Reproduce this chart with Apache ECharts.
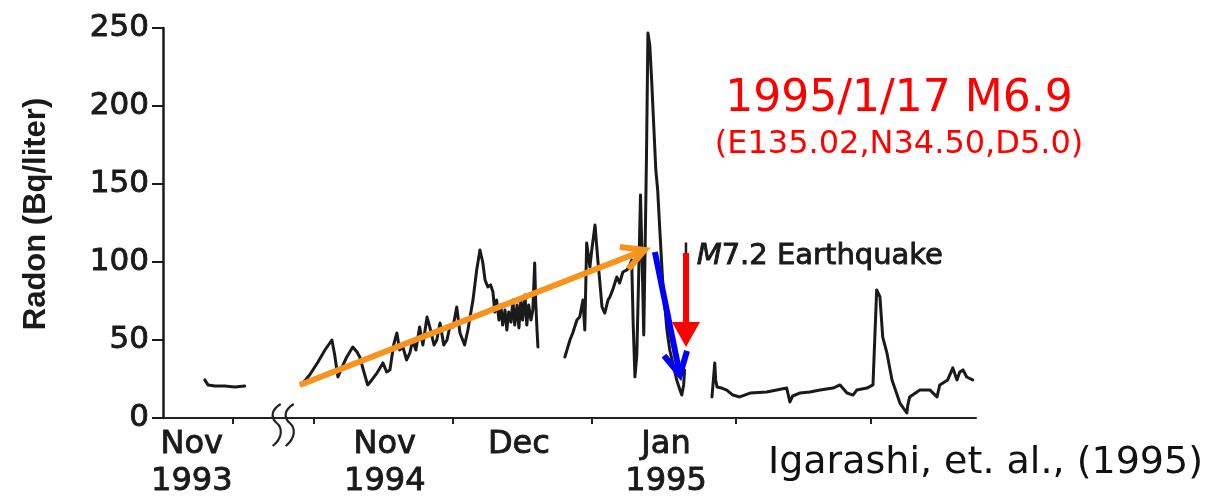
<!DOCTYPE html>
<html>
<head>
<meta charset="utf-8">
<script src="https://cdn.jsdelivr.net/npm/echarts@6/dist/echarts.min.js"></script>
<style>
  html, body { margin: 0; padding: 0; background: #fff; }
  #chart { width: 1213px; height: 498px; }
</style>
</head>
<body>
<div id="chart"></div>
<script>
// x = days counted from 1 Nov 1994; the short Nov 1993 record sits left of the axis break
const seg1993 = [[-23.5,24.4],[-22.8,21.2],[-21.3,20.5],[-19.2,20.5],[-17.0,19.9],[-14.9,20.5]];

const segAutumn = [[-2.7,21.2],[-0.9,27.6],[0.9,35.9],[2.4,43.6],[3.9,50.0],[4.5,40.4],[5.2,26.3],[6.3,34.0],
  [7.1,39.1],[8.4,45.5],[9.3,42.3],[9.9,39.1],[10.8,29.5],[11.6,21.2],[12.5,24.4],[13.6,28.8],[14.9,35.3],
  [15.7,29.5],[16.4,30.8],[17.2,46.8],[17.9,54.5],[18.5,43.6],[19.2,45.5],[20.0,37.2],[20.7,41.7],[21.3,50.0],
  [22.0,43.6],[22.8,58.3],[23.5,46.8],[24.4,64.7],[25.0,58.3],[25.9,46.8],[26.5,50.0],[27.2,60.9],[28.0,46.8],
  [28.7,50.0],[29.3,58.3],[30.0,58.3],[30.8,71.2],[31.5,54.5],[32.5,46.8],[33.2,56.4],[34.3,75.6],[35.1,94.9],
  [35.8,107.7],[36.4,100.0],[36.9,88.5],[37.5,84.0],[38.1,85.3],[38.6,80.8],[39.0,67.9],[39.4,75.6],[39.9,62.8],
  [40.3,72.4],[40.7,59.6],[41.2,69.2],[41.6,56.4],[42.0,67.9],[42.5,61.5],[42.9,75.6],[43.3,59.6],[43.8,72.4],
  [44.2,57.7],[44.6,75.6],[45.0,62.8],[45.5,78.8],[45.9,59.6],[46.3,72.4],[46.8,62.8],[47.2,69.2],[47.6,99.4],
  [47.8,75.6],[48.1,56.4],[48.3,45.5]];

const segPeak = [[54.1,39.1],[55.2,50.0],[55.8,54.5],[56.7,62.8],[57.3,64.7],[58.0,75.6],[58.4,56.4],[58.8,112.2],
  [59.5,96.8],[59.9,107.7],[60.6,123.7],[61.2,101.3],[61.6,88.5],[62.1,71.2],[62.7,67.3],[63.4,75.6],[63.8,77.6],
  [64.4,82.1],[65.3,90.4],[65.9,86.5],[66.6,93.6],[67.5,94.9],[68.1,98.1],[68.5,101.3],[68.8,62.8],[69.2,26.3],
  [69.6,40.0],[70.0,90.0],[70.4,142.9],[70.8,95.0],[71.1,53.2],[71.4,110.0],[71.7,170.0],[72.0,246.8],
  [72.4,239.1],[72.8,216.7],[73.3,184.6],[73.7,159.0],[74.1,146.2],[74.6,118.6],[75.2,86.5],[76.1,56.4],
  [76.7,43.6],[77.6,32.1],[78.2,24.4],[78.9,17.9],[79.3,14.7],[79.7,21.2],[79.9,30.8]];

const segAfter = [[85.8,13.5],[86.2,27.6],[86.4,35.3],[86.6,24.4],[86.9,19.9],[87.9,19.2],[89.0,17.9],[90.3,14.7],
  [91.8,13.5],[94.0,16.0],[97.6,16.7],[101.9,19.2],[102.6,10.3],[103.2,14.1],[104.7,16.0],[106.9,16.7],
  [109.1,17.9],[111.9,19.2],[113.4,21.2],[114.9,16.0],[116.2,14.7],[117.0,17.9],[119.2,19.2],[120.5,21.2],
  [120.9,51.9],[121.3,82.1],[122.0,77.6],[122.6,51.9],[123.5,41.7],[124.6,24.4],[126.3,9.6],[127.8,3.2],
  [128.0,8.3],[128.4,13.5],[130.6,17.9],[132.8,17.9],[134.3,13.5],[134.9,21.2],[136.6,24.4],[137.7,32.1],
  [138.6,24.4],[139.2,29.5],[139.9,30.8],[140.7,26.3],[142.0,24.4]];

// month boundaries (ticks) and mid-month label positions
const monthTicks = [-17.5, 0, 30, 60, 91, 120];
const monthLabelPos = [-26.3, 15.3, 44.2, 75.9];
const monthLabels = ['Nov\n1993', 'Nov\n1994', 'Dec', 'Jan\n1995'];

// arrows: [x0, y0, x1, y1] in axis units
const trendArrow = [[-3.0, 21.2, 71.3, 107.7]];
const dropArrow = [[73.5, 106.4, 78.9, 27.6]];
const quakeArrow = [[80.2, 105.8, 80.2, 45.5]];
const quakeMark = [[80.2, 112.5, 80.2, 100]];
const quakeLabel = [[82.5, 103.8]];
const axisBreak = [[-6.7, 0]];

const chart = echarts.init(document.getElementById('chart'), null, { renderer: 'canvas' });

const ink = '#1a1a1a';
const traceStyle = { color: ink, width: 3, join: 'round', cap: 'round' };
function traceSeries(data) {
  return {
    type: 'line', data: data, showSymbol: false, symbol: 'none',
    lineStyle: traceStyle, z: 2, animation: false, silent: true
  };
}

function arrowSeries(data, color, head, z) {
  return {
    type: 'custom', data: data, z: z, clip: false, silent: true,
    encode: { x: [0, 2], y: [1, 3] },
    renderItem: function (params, api) {
      const p0 = api.coord([api.value(0), api.value(1)]);
      const p1 = api.coord([api.value(2), api.value(3)]);
      const dx = p1[0] - p0[0], dy = p1[1] - p0[1];
      const len = Math.hypot(dx, dy);
      const ux = dx / len, uy = dy / len, nx = -uy, ny = ux;
      const children = [];
      if (head === 'open') {
        const L = 25, a = 28 * Math.PI / 180;
        const bx = p1[0] - ux * L * Math.cos(a), by = p1[1] - uy * L * Math.cos(a);
        const s = L * Math.sin(a);
        children.push({ type: 'line', shape: { x1: p0[0], y1: p0[1], x2: p1[0], y2: p1[1] },
          style: { stroke: color, lineWidth: 6, lineCap: 'butt' } });
        children.push({ type: 'polyline',
          shape: { points: [[bx + nx * s, by + ny * s], [p1[0], p1[1]], [bx - nx * s, by - ny * s]] },
          style: { stroke: color, lineWidth: 6, fill: null, lineJoin: 'miter' } });
      } else if (head === 'filled') {
        const H = 25, W = 14;
        const bx = p1[0] - ux * H, by = p1[1] - uy * H;
        children.push({ type: 'line', shape: { x1: p0[0], y1: p0[1], x2: bx, y2: by },
          style: { stroke: color, lineWidth: 6 } });
        children.push({ type: 'polygon',
          shape: { points: [[bx + nx * W, by + ny * W], [p1[0], p1[1]], [bx - nx * W, by - ny * W]] },
          style: { fill: color } });
      } else {
        children.push({ type: 'line', shape: { x1: p0[0], y1: p0[1], x2: p1[0], y2: p1[1] },
          style: { stroke: color, lineWidth: 2.5 } });
      }
      return { type: 'group', children: children };
    }
  };
}

// scanned-print look: normal weight glyphs with a thin outline of the same ink
const heavy = { color: ink, textBorderColor: ink, textBorderWidth: 0.9 };

const option = {
  animation: false,
  backgroundColor: '#fff',
  grid: { left: 163, right: 237, top: 28, bottom: 80, containLabel: false, outerBoundsMode: 'none' },
  xAxis: {
    type: 'value', min: -32.5, max: 142.7,
    splitLine: { show: false },
    axisLine: { show: true, onZero: false, lineStyle: { color: '#222', width: 2 } },
    axisTick: { show: true, customValues: monthTicks, length: 6, inside: false,
      lineStyle: { color: '#222', width: 2 } },
    axisLabel: Object.assign({
      show: true, customValues: monthLabelPos, margin: 8,
      fontFamily: 'DejaVu Sans', fontSize: 32, lineHeight: 37,
      verticalAlign: 'top',
      formatter: function (v) {
        let best = 0;
        monthLabelPos.forEach((p, i) => { if (Math.abs(p - v) < Math.abs(monthLabelPos[best] - v)) best = i; });
        return monthLabels[best];
      }
    }, heavy)
  },
  yAxis: {
    type: 'value', min: 0, max: 250, interval: 50,
    name: 'Radon (Bq/liter)', nameLocation: 'middle', nameGap: 111, nameRotate: 90,
    nameTextStyle: { fontFamily: 'Liberation Sans', fontWeight: 'bold', fontSize: 31, color: ink,
      padding: [0, 0, 0, 18] },
    splitLine: { show: false },
    axisLine: { show: true, onZero: false, lineStyle: { color: ink, width: 2.5 } },
    axisTick: { show: true, length: 11, inside: false, lineStyle: { color: ink, width: 2 } },
    axisLabel: Object.assign({ fontFamily: 'DejaVu Sans', fontSize: 31, margin: 14 }, heavy)
  },
  series: [
    traceSeries(seg1993),
    traceSeries(segAutumn),
    traceSeries(segPeak),
    traceSeries(segAfter),
    {
      type: 'custom', data: axisBreak, z: 3, clip: false, silent: true,
      renderItem: function (params, api) {
        const c = api.coord([api.value(0), api.value(1)]);
        const sq = function (dx) {
          const x = c[0] + dx, y = c[1];
          return 'M' + (x + 4) + ',' + (y - 14) + ' C' + (x - 6) + ',' + (y - 8) + ' ' + (x - 6) + ',' + y + ' ' + x + ',' + (y + 5) +
                 ' C' + (x + 6) + ',' + (y + 10) + ' ' + (x + 6) + ',' + (y + 20) + ' ' + (x - 4) + ',' + (y + 28);
        };
        return { type: 'group', children: [
          { type: 'path', shape: { pathData: sq(-6) }, style: { stroke: '#222', lineWidth: 2.2, fill: null } },
          { type: 'path', shape: { pathData: sq(7) }, style: { stroke: '#222', lineWidth: 2.2, fill: null } }
        ] };
      }
    },
    arrowSeries(quakeMark, ink, 'none', 3),
    arrowSeries(trendArrow, '#F7941D', 'open', 4),
    arrowSeries(quakeArrow, '#FF0000', 'filled', 5),
    arrowSeries(dropArrow, '#0000FF', 'open', 6),
    {
      type: 'scatter', data: quakeLabel, symbolSize: 0, z: 6, silent: true,
      itemStyle: { opacity: 1 },
      label: {
        show: true, position: 'right', distance: 0, opacity: 1,
        formatter: '{i|M}{n|7.2 Earthquake}',
        rich: {
          i: Object.assign({ fontFamily: 'DejaVu Sans', fontStyle: 'italic', fontSize: 29 }, heavy),
          n: Object.assign({ fontFamily: 'DejaVu Sans', fontSize: 29 }, heavy)
        }
      }
    }
  ],
  graphic: [
    { type: 'text', x: 899, y: 100,
      style: { text: '1995/1/17 M6.9', fill: '#FF0000', font: '44px "DejaVu Sans"', align: 'center', verticalAlign: 'middle' } },
    { type: 'text', x: 899, y: 145,
      style: { text: '(E135.02,N34.50,D5.0)', fill: '#FF0000', font: '32px "DejaVu Sans"', align: 'center', verticalAlign: 'middle' } },
    { type: 'text', x: 768, y: 463,
      style: { text: 'Igarashi, et. al., (1995)', fill: '#111', font: '38px "DejaVu Sans"', align: 'left', verticalAlign: 'middle' } }
  ]
};

chart.setOption(option);
</script>
</body>
</html>
